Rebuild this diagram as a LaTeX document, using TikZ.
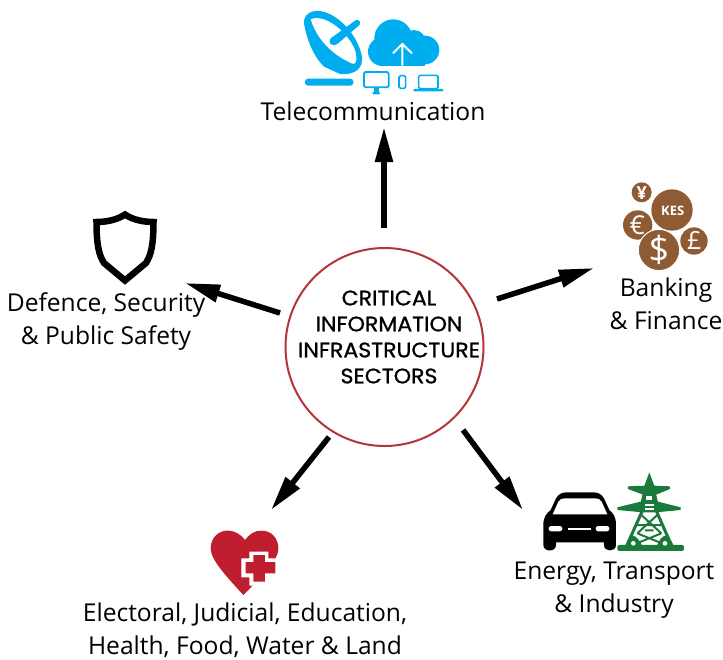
\documentclass[tikz,border=0pt]{standalone}
\usepackage{fontspec}
\setmainfont{Open Sans}
\newfontfamily\hubfont[FakeBold=1,FakeStretch=1.05]{Poppins}
\usetikzlibrary{arrows.meta}
\definecolor{skyb}{HTML}{00AEEF}
\definecolor{coin}{HTML}{8F5B34}
\definecolor{towerg}{HTML}{1A7A3C}
\definecolor{heartr}{HTML}{BE1E2D}
\definecolor{ringr}{HTML}{B5343A}
\tikzset{
  spoke/.style={draw=black,line width=5.5pt,-{Triangle[length=35pt,width=17pt]},shorten >=0pt},
  lbl/.style={inner sep=0pt,align=center,font=\fontsize{24.6}{33}\selectfont},
  hubtxt/.style={font=\hubfont\fontsize{21}{26}\selectfont,align=center},
  zoomed/.style={x=0.3333pt,y=-0.3333pt},
  cointxt/.style={text=white,inner sep=0pt,font=\bfseries}
}
\begin{document}
\begin{tikzpicture}[x=1pt,y=-1pt]
\useasboundingbox (0,0) rectangle (723,659);
\fill[white] (0,0) rectangle (723,659);
% hub
\node[circle,draw=ringr,line width=2pt,minimum size=198pt,inner sep=0pt] (hub) at (384.5,347) {};
\node[hubtxt] (hubtext) at (389,337) {CRITICAL\\INFORMATION\\INFRASTRUCTURE\\SECTORS};
% labels
\node[lbl] (tele) at (373,111) {Telecommunication};
\node[lbl] (defence) at (106,322) {Defence, Security\\\& Public Safety};
\node[lbl] (bank) at (666,304) {Banking\\\& Finance};
\node[lbl] (energy) at (614,590) {Energy, Transport\\\& Industry};
\node[lbl] (elect) at (245,630) {Electoral, Judicial, Education,\\Health, Food, Water \& Land};
% connector ends
\coordinate (a1) at (384,228); \coordinate (b1) at (384,127);
\coordinate (a2) at (497,299); \coordinate (b2) at (594,268);
\coordinate (a3) at (280,313); \coordinate (b3) at (185,283);
\coordinate (a4) at (329,437); \coordinate (b4) at (271,510);
\coordinate (a5) at (463,430); \coordinate (b5) at (523,510);
\draw[spoke] (a1) -- (b1);
\draw[spoke] (a2) -- (b2);
\draw[spoke] (a3) -- (b3);
\draw[spoke] (a4) -- (b4);
\draw[spoke] (a5) -- (b5);
% shield
\draw[black,line width=6.5pt,line join=miter] (125,214.5) .. controls (117,220) and (106,222) .. (96.5,222)
  .. controls (96.5,245) and (99,255) .. (104,263) -- (125,280.5) -- (146,263)
  .. controls (151,255) and (153.5,245) .. (153.5,222) .. controls (144,222) and (133,220) .. (125,214.5) -- cycle;
% telecom icon
\begin{scope}[shift={(290,0)},zoomed]
  \fill[skyb] (42,70) .. controls (40,40) and (70,28) .. (95,34) .. controls (150,45) and (205,110) .. (216,170)
     .. controls (220,205) and (195,226) .. (150,222) .. controls (100,222) and (55,150) .. (42,70) -- cycle;
  \fill[white] (62,58) .. controls (100,40) and (170,90) .. (195,150) .. controls (205,185) and (195,197) .. (185,190)
     .. controls (140,170) and (85,130) .. (62,58) -- cycle;
  \fill[skyb] (122,115) -- (198,60) .. controls (212,58) and (214,72) .. (205,78) -- (142,132) .. controls (125,142) and (112,128) .. (122,115) -- cycle;
  \draw[white,line width=1.6pt] (100,202) -- (150,225);
  \fill[skyb,rounded corners=3pt] (45,236) rectangle (190,257);
  \fill[skyb] (310,115) circle (57) (277,155) circle (43) (405,150) circle (43) (372,125) circle (35);
  \fill[skyb] (277,150) rectangle (405,197);
  \draw[white,line width=2pt] (337,197) -- (337,132) (309,160) -- (337,132) -- (366,160);
  \draw[skyb,line width=1.8pt,rounded corners=1.5pt] (222,216) rectangle (296,262);
  \fill[skyb] (252,262) rectangle (266,278);
  \fill[skyb,rounded corners=1pt] (247,276) rectangle (270,283);
  \draw[skyb,line width=1.6pt,rounded corners=1.5pt] (327,227) rectangle (347,265);
  \draw[skyb,line width=1.6pt,rounded corners=1.5pt] (386,226) rectangle (444,266);
  \fill[skyb,rounded corners=1pt] (370,267) rectangle (460,274);
\end{scope}
% coins
\begin{scope}[shift={(600,170)},zoomed]
  \fill[coin] (125,67) circle (30);
  \fill[coin] (216,120) circle (62);
  \fill[coin] (113,165) circle (44);
  \fill[coin] (282,213) circle (41);
  \draw[white,line width=1pt,fill=coin] (177,240) circle (62);
  \node[cointxt,font=\bfseries\fontsize{18}{18}\selectfont] (yen) at (125,68) {¥};
  \node[cointxt,font=\bfseries\fontsize{13}{13}\selectfont] (kes) at (218,122) {KES};
  \node[cointxt,font=\fontsize{26}{26}\selectfont] (euro) at (112,166) {€};
  \node[cointxt,font=\fontsize{36}{36}\selectfont] (dollar) at (177,240) {\$};
  \node[cointxt,font=\fontsize{25}{25}\selectfont] (pound) at (283,212) {£};
\end{scope}
% car
\begin{scope}[shift={(530,465)},zoomed]
  \fill[black] (40,180) .. controls (40,155) and (50,145) .. (62,135) -- (78,100) .. controls (85,88) and (95,82) .. (110,82)
     -- (190,82) .. controls (205,82) and (215,88) .. (222,100) -- (238,135) .. controls (250,145) and (258,155) .. (258,180)
     -- (258,240) .. controls (258,262) and (222,262) .. (222,240) -- (222,232) -- (78,232) -- (78,240)
     .. controls (78,262) and (40,262) .. (40,240) -- cycle;
  \fill[white] (68,148) -- (85,110) .. controls (90,102) and (95,100) .. (105,100) -- (195,100)
     .. controls (205,100) and (210,102) .. (215,110) -- (232,148) -- cycle;
  \fill[white,rounded corners=2.5pt] (56,183) rectangle (97,199);
  \fill[white,rounded corners=2.5pt] (197,183) rectangle (238,199);
  \fill[white] (115,188) rectangle (182,196);
  % pylon
  \fill[towerg,rounded corners=2pt] (262,240) rectangle (462,258);
  \fill[towerg] (358,22) -- (372,60) -- (344,60) -- cycle;
  \fill[towerg] (294,64) -- (345,62) -- (372,62) -- (420,64) -- (420,72) -- (376,90) -- (342,90) -- (294,72) -- cycle;
  \fill[towerg] (262,127) -- (340,108) -- (376,108) -- (452,127) -- (452,135) -- (378,142) -- (338,142) -- (262,135) -- cycle;
  \fill[towerg] (344,60) -- (372,60) -- (384,112) -- (332,112) -- cycle;
  \fill[white] (349,92) rectangle (367,106);
  \fill[white] (345,116) rectangle (371,122);
  \fill[white] (344,128) rectangle (372,136);
  \draw[towerg,line width=3pt] (336,140) -- (290,242) (380,140) -- (425,242);
  \draw[towerg,line width=2pt] (334,150) -- (394,205) (382,150) -- (322,205) (320,180) -- (396,180)
     (322,205) -- (408,240) (394,205) -- (308,240) (345,196) -- (371,196);
  \fill[towerg] (288,240) .. controls (295,225) and (300,215) .. (310,212) .. controls (320,215) and (330,228) .. (335,240) -- cycle;
  \fill[towerg] (382,240) .. controls (388,225) and (395,215) .. (405,212) .. controls (415,215) and (425,228) .. (430,240) -- cycle;
  \fill[white] (310,235) circle (7) (405,235) circle (7);
\end{scope}
% heart
\begin{scope}[shift={(200,520)},zoomed]
  \fill[heartr] (130,225) .. controls (80,170) and (32,120) .. (32,85) .. controls (32,50) and (60,30) .. (85,32)
     .. controls (105,32) and (125,45) .. (135,60) .. controls (145,45) and (165,30) .. (185,32)
     .. controls (215,32) and (235,55) .. (235,85) .. controls (235,110) and (220,135) .. (130,225) -- cycle;
  \fill[white] (148,95) -- (205,95) -- (205,115) -- (240,115) -- (240,172) -- (205,172) -- (205,197) -- (148,197) -- (148,172) -- (124,172) -- (124,115) -- (148,115) -- cycle;
  \fill[heartr] (160,105) -- (195,105) -- (195,126) -- (226,126) -- (226,160) -- (195,160) -- (195,185) -- (160,185) -- (160,160) -- (137,160) -- (137,126) -- (160,126) -- cycle;
\end{scope}
\end{tikzpicture}
\end{document}
